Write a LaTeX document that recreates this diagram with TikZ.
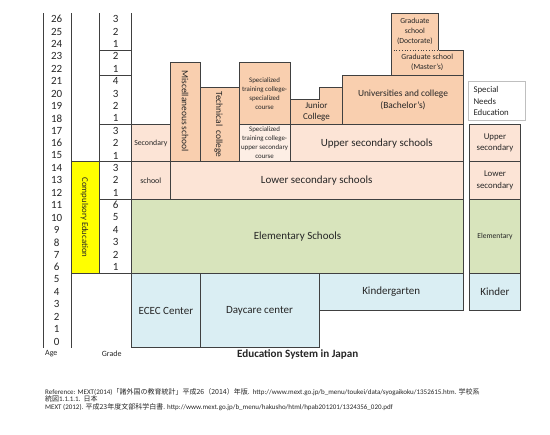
\documentclass[tikz,border=0pt]{standalone}
\usepackage{fontspec}
\setmainfont{Carlito}
\newfontfamily\jpfont{Noto Sans CJK JP}
\definecolor{framegray}{HTML}{404040}
\definecolor{peachdark}{HTML}{F9CFAF}
\definecolor{peachlight}{HTML}{FCE4D6}
\definecolor{peachpale}{HTML}{FDEEE5}
\definecolor{elemgreen}{HTML}{D8E4BC}
\definecolor{preblue}{HTML}{DAEEF3}
\definecolor{compyellow}{HTML}{FFFF00}
\definecolor{snegray}{HTML}{BFBFBF}
\definecolor{textgray}{HTML}{262626}
\begin{document}
\begin{tikzpicture}[x=1pt, y=12.4pt,
  rule/.style={draw=framegray, line width=0.7pt},
  darkbox/.style={rule, fill=peachdark},
  lightbox/.style={rule, fill=peachlight},
  palebox/.style={rule, fill=peachpale},
  greenbox/.style={rule, fill=elemgreen},
  bluebox/.style={rule, fill=preblue},
  lbl/.style={inner sep=0, align=center, text=textgray},
  big/.style={lbl, font=\fontsize{11}{13}\selectfont},
  mid/.style={lbl, font=\fontsize{9.4}{12.5}\selectfont},
  small/.style={lbl, font=\fontsize{8.8}{11.5}\selectfont},
  tiny/.style={lbl, font=\fontsize{7.8}{10}\selectfont},
  tinier/.style={lbl, font=\fontsize{6.9}{9}\selectfont},
  refline/.style={inner sep=0, anchor=west, text=textgray, font=\fontsize{7}{8}\selectfont}]
\useasboundingbox (0,-7.04) rectangle (550,28.04);

% age and grade columns
\draw[rule] (43,0) -- (43,27);
\draw[rule] (71,0) -- (71,27);
\draw[rule] (99.7,6) -- (99.7,27);
\draw[rule] (131.7,6) -- (131.7,27);
\foreach \y in {24,22,18,15,12,6}
  \draw[rule] (99.7,\y) -- (131.7,\y);
\draw[rule, fill=compyellow] (71,6) rectangle (99.7,15);
\node[small, rotate=-90] (comp) at (84.5,10.5) {Compulsory Education};
\foreach \a in {0,...,26}
  \node[big] (age\a) at (56.7,\a+0.5) {\a};
\foreach \a/\g in {26/3,25/2,24/1,23/2,22/1,21/4,20/3,19/2,18/1,17/3,16/2,15/1,
                   14/3,13/2,12/1,11/6,10/5,9/4,8/3,7/2,6/1}
  \node[big] (grade\a) at (115.7,\a+0.5) {\g};

% upper secondary and higher education
\draw[lightbox] (131.7,15) rectangle (170,18);
\node[tiny] (sec) at (150.8,16.5) {Secondary};
\draw[darkbox] (170,15) rectangle (200,23);
\node[mid, rotate=-90] (misc) at (185,19.1) {Miscellaneous school};
\draw[darkbox] (200,15) rectangle (239,21);
\node[mid, rotate=-90] (tech) at (218.5,18) {Technical\ \ college};
\draw[darkbox] (239,18) rectangle (290.3,23);
\node[tinier] (spec) at (264.6,20.5) {Specialized\\training college-\\specialized\\course};
\draw[palebox] (239,15) rectangle (290.3,18);
\node[tinier] (specup) at (264.6,16.5) {Specialized\\training college-\\upper secondary\\course};
\draw[darkbox] (290.3,18) -- (290.3,20) -- (319,20) -- (319,21) -- (342.7,21) -- (342.7,18) -- cycle;
\node[mid, font=\fontsize{9}{11.3}\selectfont] (junior) at (316.5,19.03) {Junior\\College};
\draw[darkbox] (342.7,18) rectangle (463.3,22);
\node[mid] (univ) at (403,20) {Universities and college\\(Bachelor's)};
\draw[darkbox] (391,24) -- (391,22) -- (463.3,22) -- (463.3,24) -- (438.7,24);
\draw[darkbox] (391,24) -- (391,27) -- (438.7,27) -- (438.7,24);
\draw[framegray, line width=0.7pt, dotted] (391,24) -- (438.7,24);
\node[tiny] (master) at (427.2,23) {Graduate school\\(Master's)};
\node[tiny, font=\fontsize{7.7}{9.8}\selectfont] (doctor) at (414.9,25.5) {Graduate\\school\\(Doctorate)};
\draw[lightbox] (290.3,15) rectangle (463.3,18);
\node[big] (upper) at (376.8,16.5) {Upper secondary schools};

% compulsory education
\draw[lightbox] (131.7,12) rectangle (170,15);
\node[tiny, font=\fontsize{8}{10}\selectfont] (secschool) at (150.8,13.5) {school};
\draw[lightbox] (170,12) rectangle (463.3,15);
\node[big] (lower) at (316.7,13.5) {Lower secondary schools};
\draw[greenbox] (131.7,6) rectangle (463.3,12);
\node[big] (elem) at (297.5,9) {Elementary Schools};

% early childhood
\draw[bluebox] (131.7,0) rectangle (200,6);
\node[big] (ecec) at (165.8,3) {ECEC Center};
\draw[bluebox] (200,0) rectangle (319,6);
\node[big] (daycare) at (259.5,3) {Daycare center};
\draw[bluebox] (319,3) rectangle (463.3,6);
\node[big] (kinder) at (391.2,4.5) {Kindergarten};

% special needs education
\draw[draw=snegray, line width=0.7pt, fill=white] (468.3,18.31) rectangle (525,21.45);
\node[small, align=left, anchor=west] (sne) at (473.3,19.88) {Special\\Needs\\Education};
\draw[lightbox] (469.3,15) rectangle (520.7,18);
\node[small] (sneupper) at (495,16.5) {Upper\\secondary};
\draw[lightbox] (469.3,12) rectangle (520.7,15);
\node[small] (snelower) at (495,13.5) {Lower\\secondary};
\draw[greenbox] (469.3,6) rectangle (520.7,12);
\node[tiny, font=\fontsize{7.6}{9}\selectfont] (sneelem) at (495,9) {Elementary};
\draw[bluebox] (469.3,3) rectangle (520.7,6);
\node[big] (snekinder) at (495,4.5) {Kinder};

% captions
\node[lbl, font=\fontsize{8}{9}\selectfont] (agecap) at (51.3,-0.5) {Age};
\node[lbl, font=\fontsize{8}{9}\selectfont] (gradecap) at (111.7,-0.5) {Grade};
\node[lbl, font=\bfseries\fontsize{11.1}{13}\selectfont] (title) at (297.7,-0.51) {Education System in Japan};
\node[refline] (ref1) at (45,-3.6) {Reference: MEXT(2014){\jpfont 「諸外国の教育統計」平成26（2014）年版}.\ \ http://www.mext.go.jp/b\_menu/toukei/data/syogaikoku/1352615.htm. {\jpfont 学校系}};
\node[refline] (ref2) at (45,-4.14) {{\jpfont 統図}1.1.1.1.\ \ {\jpfont 日本}};
\node[refline] (ref3) at (45,-4.81) {MEXT (2012). {\jpfont 平成23年度文部科学白書}. http://www.mext.go.jp/b\_menu/hakusho/html/hpab201201/1324356\_020.pdf};
\end{tikzpicture}
\end{document}
